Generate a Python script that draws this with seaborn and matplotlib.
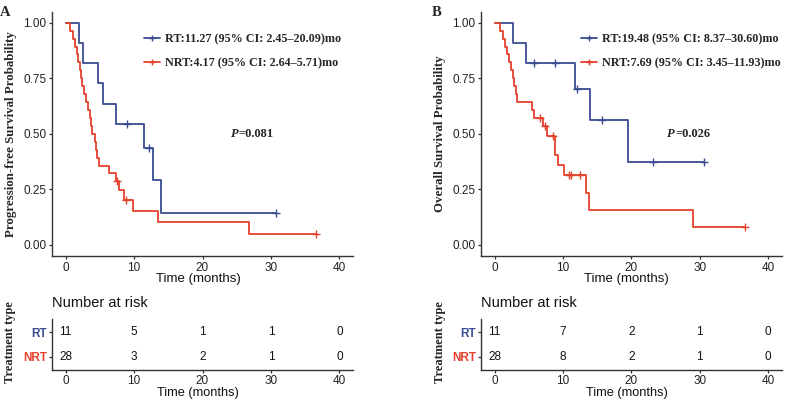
import numpy as np
import pandas as pd
import matplotlib
matplotlib.use('Agg')
import matplotlib.pyplot as plt
import seaborn as sns
from matplotlib.lines import Line2D


# ---------------------------------------------------------------------------
# Data (time in months, event: 1 = event, 0 = censored)
# ---------------------------------------------------------------------------

# Panel A - progression-free survival
pfs_rt_time = [2.0, 2.5, 4.7, 5.4, 7.4, 8.9, 11.4, 12.2, 12.8, 14.0, 30.7]
pfs_rt_event = [1, 1, 1, 1, 1, 0, 1, 0, 1, 1, 0]

pfs_nrt_time = [0.7, 1.05, 1.3, 1.6, 1.85, 2.1, 2.3, 2.45, 2.65, 3.0, 3.25, 3.5,
                3.7, 3.9, 4.25, 4.45, 4.65, 4.9, 6.3, 7.3, 7.5, 7.75, 8.5, 8.8,
                9.9, 13.5, 26.8, 36.6]
pfs_nrt_event = [1, 1, 1, 1, 1, 1, 1, 1, 1, 1, 1, 1,
                 1, 1, 1, 1, 1, 1, 1, 1, 0, 1, 1, 0,
                 1, 1, 1, 0]

# Panel B - overall survival
os_rt_time = [2.7, 4.6, 5.7, 8.8, 11.7, 12.0, 13.9, 15.7, 19.5, 23.2, 30.7]
os_rt_event = [1, 1, 0, 0, 1, 0, 1, 0, 1, 0, 0]

os_nrt_time = [0.75, 1.25, 1.55, 1.8, 2.1, 2.35, 2.7, 2.9, 3.05, 3.25, 5.5, 5.8,
               6.7, 7.1, 7.3, 7.6, 8.5, 8.8, 8.8, 9.3, 10.1, 10.9, 11.2, 12.5,
               13.4, 13.8, 29.0, 36.6]
os_nrt_event = [1, 1, 1, 1, 1, 1, 1, 1, 1, 1, 1, 1,
                0, 1, 0, 1, 0, 1, 1, 1, 1, 0, 0, 0,
                1, 1, 1, 0]

# Number at risk tables
risk_times = [0, 10, 20, 30, 40]
pfs_risk_rt = [11, 5, 1, 1, 0]
pfs_risk_nrt = [28, 3, 2, 1, 0]
os_risk_rt = [11, 7, 2, 1, 0]
os_risk_nrt = [28, 8, 2, 1, 0]

pfs_labels = ['RT:11.27 (95% CI: 2.45\u201320.09)mo',
              'NRT:4.17 (95% CI: 2.64\u20135.71)mo']
os_labels = ['RT:19.48 (95% CI: 8.37\u201330.60)mo',
             'NRT:7.69 (95% CI: 3.45\u201311.93)mo']
pfs_p = '=0.081'
os_p = '=0.026'

BLUE = '#3A4B90'
RED = '#E5412C'
SANS = 'Liberation Sans'
SERIF = 'Liberation Serif'


################################################################################
#
# Functions
#
################################################################################


def km_curve(times, events):
    t = np.asarray(times, dtype=float)
    e = np.asarray(events)
    xs, ys = [0.0], [1.0]
    s = 1.0
    for u in np.unique(t[e == 1]):
        n = np.sum(t >= u)
        d = np.sum((t == u) & (e == 1))
        s *= 1 - d / n
        xs.append(u)
        ys.append(s)
    xs.append(t.max())
    ys.append(s)
    xs, ys = np.array(xs), np.array(ys)

    cens = t[e == 0]
    cens_s = np.array([ys[np.searchsorted(xs[:-1], c, side='right') - 1] for c in cens])
    return pd.DataFrame({'time': xs, 'surv': ys}), pd.DataFrame({'time': cens, 'surv': cens_s})


def style_axis(ax, pad=1.5):
    sns.despine(ax=ax)
    for sp in ['left', 'bottom']:
        ax.spines[sp].set_linewidth(1.0)
        ax.spines[sp].set_color('#333333')
    ax.tick_params(length=2.5, width=0.9, color='#333333', pad=pad,
                   labelsize=8.5, labelcolor='#222222')
    for lab in ax.get_xticklabels() + ax.get_yticklabels():
        lab.set_fontfamily(SANS)


def plot_km(ax, groups, labels, ylabel, ptext, legend_x, p_x):
    for (times, events), color in zip(groups, [BLUE, RED]):
        curve, cens = km_curve(times, events)
        sns.lineplot(data=curve, x='time', y='surv', drawstyle='steps-post',
                     estimator=None, sort=False, color=color, linewidth=1.3, ax=ax)
        sns.scatterplot(data=cens, x='time', y='surv', marker='+', s=30,
                        color=color, linewidth=1.0, ax=ax, zorder=3)

    ax.set_xlim(-2, 42)
    ax.set_ylim(-0.05, 1.05)
    ax.set_xticks([0, 10, 20, 30, 40])
    ax.set_yticks([0, 0.25, 0.5, 0.75, 1.0])
    ax.set_yticklabels(['0.00', '0.25', '0.50', '0.75', '1.00'])
    style_axis(ax)

    ax.set_xlabel('Time (months)', fontsize=9.5, family=SANS, color='#111111')
    ax.xaxis.set_label_coords(0.485, -0.094)
    ax.xaxis.label.set_va('center')
    ax.set_ylabel(ylabel, fontsize=9.3, family=SERIF, fontweight='bold')
    ax.yaxis.set_label_coords(-0.137, 0.5)
    ax.yaxis.label.set_va('center')

    handles = [Line2D([], [], color=c, lw=1.3, marker='+', markersize=5, mew=1.0)
               for c in [BLUE, RED]]
    ax.legend(handles, labels, loc='upper left', bbox_to_anchor=(legend_x, 0.91),
              frameon=False, borderpad=0, borderaxespad=0, handlelength=1.3,
              handletextpad=0.45, labelspacing=0.95,
              prop={'family': SERIF, 'weight': 'bold', 'size': 8.7})

    t = ax.text(p_x, 0.5, 'P', transform=ax.transAxes, fontsize=9, family=SERIF,
                fontweight='bold', style='italic', va='center', ha='left')
    ax.annotate(ptext, xy=(1, 0.5), xycoords=t, va='center', ha='left',
                fontsize=9, family=SERIF, fontweight='bold')


def plot_risk(ax, rt, nrt):
    for yv, vals in zip([2, 1], [rt, nrt]):
        for x, v in zip(risk_times, vals):
            ax.text(x, yv, str(v), ha='center', va='center', fontsize=8.5,
                    family=SANS, color='#111111')
    ax.set_xlim(-2, 42)
    ax.set_ylim(0.45, 2.55)
    ax.set_xticks([0, 10, 20, 30, 40])
    ax.set_yticks([2, 1])
    ax.set_yticklabels(['RT', 'NRT'])
    style_axis(ax, pad=1.0)
    for lab, c in zip(ax.get_yticklabels(), [BLUE, RED]):
        lab.set_color(c)
        lab.set_fontweight('bold')
        lab.set_fontsize(8.5)

    ax.set_xlabel('Time (months)', fontsize=9.2, family=SANS, color='#111111')
    ax.xaxis.set_label_coords(0.485, -0.46)
    ax.xaxis.label.set_va('center')
    ax.set_ylabel('Treatment type', fontsize=9, family=SERIF, fontweight='bold')
    ax.yaxis.set_label_coords(-0.138, 0.55)
    ax.yaxis.label.set_va('center')
    ax.text(0.0, 1.31, 'Number at risk', transform=ax.transAxes, fontsize=10.5,
            family=SANS, va='center', ha='left', color='#111111')


def main():
    sns.set_theme(style='ticks')
    plt.rcParams['font.family'] = [SANS, 'DejaVu Sans']

    fig = plt.figure(figsize=(7.87, 4.0), dpi=100)
    ax_a = fig.add_axes([52 / 787, 0.36, 301 / 787, 0.611])
    ax_b = fig.add_axes([481 / 787, 0.36, 300.7 / 787, 0.611])
    rk_a = fig.add_axes([52 / 787, 0.075, 301 / 787, 0.1275])
    rk_b = fig.add_axes([481 / 787, 0.075, 300.7 / 787, 0.1275])

    plot_km(ax_a, [(pfs_rt_time, pfs_rt_event), (pfs_nrt_time, pfs_nrt_event)],
            pfs_labels, 'Progression-free Survival Probability', pfs_p, 0.305, 0.595)
    plot_km(ax_b, [(os_rt_time, os_rt_event), (os_nrt_time, os_nrt_event)],
            os_labels, 'Overall Survival Probability', os_p, 0.333, 0.62)

    plot_risk(rk_a, pfs_risk_rt, pfs_risk_nrt)
    plot_risk(rk_b, os_risk_rt, os_risk_nrt)

    fig.text(0.0, 0.985, 'A', fontsize=10.5, family=SERIF, fontweight='bold', va='top')
    fig.text(432 / 787, 0.985, 'B', fontsize=10.5, family=SERIF, fontweight='bold', va='top')

    fig.savefig('out.png', dpi=100)


################################################################################
#
# Main
#
################################################################################


if __name__ == "__main__":
    main()
